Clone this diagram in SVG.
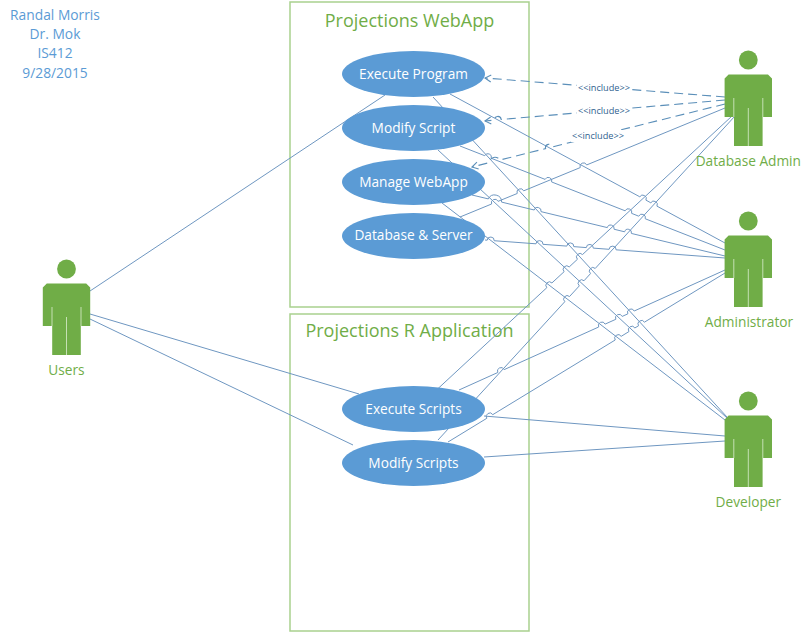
<svg xmlns="http://www.w3.org/2000/svg" xmlns:xlink="http://www.w3.org/1999/xlink" width="811" height="632" viewBox="0 0 811 632">
<style>
text{font-family:"Open Sans","Liberation Sans",sans-serif;text-anchor:middle}
.box{fill:none;stroke:#a9d18e;stroke-width:1.5}
.title{font-size:18px;fill:#70ad47}
.uc{fill:#5b9bd5}
.uct{font-size:13.7px;fill:#fff}
.act{font-size:13.7px;fill:#70ad47}
.note{font-size:13.8px;fill:#5b9bd5}
.c{fill:none;stroke:#6f97c1;stroke-width:1}
.d{fill:none;stroke:#5b8fb9;stroke-width:1.1;stroke-dasharray:9 5;marker-end:url(#open)}
.lab{font-size:9.2px;fill:#2f5f8f}
.bg{fill:#fff}
.slit{stroke:#c5e0b4;stroke-width:1;fill:none}
</style>
<defs>
<marker id="open" markerUnits="userSpaceOnUse" markerWidth="12" markerHeight="12" refX="9" refY="6" orient="auto">
<path d="M3 2.5L9 6L3 9.5" fill="none" stroke="#5b8fb9" stroke-width="1.1"/>
</marker>
<g id="actor">
<circle cx="0" cy="0" r="9.4" fill="#70ad47"/>
<path d="M-19.7 14.5H19.7L23.7 18.5V57H14.3V86H-14.3V57H-23.7V18.5Z" fill="#70ad47"/>
<path class="slit" d="M-14.5 38V57M14.5 38V57M0 48V86"/>
</g>
</defs>
<rect width="811" height="632" fill="#fff"/>
<g id="notes">
<text class="note" x="55" y="20">Randal Morris</text>
<text class="note" x="55" y="39">Dr. Mok</text>
<text class="note" x="55" y="58">IS412</text>
<text class="note" x="55" y="78">9/28/2015</text>
</g>
<g id="webapp-boundary">
<rect class="box" x="290" y="2" width="239" height="305"/>
<text class="title" x="409.5" y="27">Projections WebApp</text>
</g>
<g id="r-boundary">
<rect class="box" x="290" y="314" width="239" height="317"/>
<text class="title" x="409.5" y="337">Projections R Application</text>
</g>
<g id="connectors">
<path class="c" d="M90 291L385 95"/>
<path class="c" d="M90 314L359 394"/>
<path class="c" d="M90 319L353 445"/>
<path class="c" d="M433 97L727 417"/>
<path class="c" d="M438 150L727 418"/>
<path class="c" d="M442 203L725 420"/>
<path class="c" d="M484 416L725 436"/>
<path class="c" d="M484 457L725 441"/>
<path class="c" d="M450 94L639.8 196.8a3.5 3.5 0 0 1 6.15 3.33L650.8 202.8a3.5 3.5 0 0 1 6.15 3.33L725 243"/>
<path class="c" d="M460 146L484.74 155.7a3.5 3.5 0 0 1 6.5 2.56L545.14 179.4a3.5 3.5 0 0 1 6.5 2.56L625.14 210.8a3.5 3.5 0 0 1 6.5 2.56L638.74 216.2a3.5 3.5 0 0 1 6.5 2.56L725 250"/>
<path class="c" d="M472 195L488.3 198.9A7 7 0 0 1 501.6 202.1L534.2 210a3.5 3.5 0 0 1 6.8 1.64L607.3 227.6a3.5 3.5 0 0 1 6.8 1.64L624.6 231.8a3.5 3.5 0 0 1 6.8 1.64L725 256"/>
<path class="c" d="M485 240L487.2 240.2a3.5 3.5 0 0 1 6.98 .52L536 243.8a3.5 3.5 0 0 1 6.98 .52L566.8 246.1a3.5 3.5 0 0 1 6.98 .52L586.3 247.6a3.5 3.5 0 0 1 6.98 .52L609.1 249.3a3.5 3.5 0 0 1 6.98 .52L725 258"/>
<path class="c" d="M459 390L497.8 372.5a3.5 3.5 0 0 1 6.38 -2.88L598.7 327a3.5 3.5 0 0 1 6.38 -2.88L615.8 319.3a3.5 3.5 0 0 1 6.38 -2.88L627.8 313.9a3.5 3.5 0 0 1 6.38 -2.88L725 270"/>
<path class="c" d="M448 442L486.8 418.3a3.5 3.5 0 0 1 5.98 -3.65L615.2 340a3.5 3.5 0 0 1 5.98 -3.65L628.9 331.6a3.5 3.5 0 0 1 5.98 -3.65L638.5 325.8a3.5 3.5 0 0 1 5.98 -3.65L725 273"/>
<path class="c" d="M460 217L491.6 204a3.5 3.5 0 0 1 6.47 -2.66L517.2 193.5a3.5 3.5 0 0 1 6.47 -2.66L580.2 167.6a3.5 3.5 0 0 1 6.47 -2.66L725 108"/>
<path class="c" d="M430 396L546.8 287.7a3.5 3.5 0 0 1 5.13 -4.76L564.1 271.7a3.5 3.5 0 0 1 5.13 -4.76L577.4 259.3a3.5 3.5 0 0 1 5.13 -4.76L732 116"/>
<path class="c" d="M438 440L564.8 301.7a3.5 3.5 0 0 1 4.73 -5.16L579.3 285.9a3.5 3.5 0 0 1 4.73 -5.16L590.5 273.6a3.5 3.5 0 0 1 4.73 -5.16L735 116"/>
</g>
<g id="uc-execute-program"><ellipse class="uc" cx="413.5" cy="74" rx="71.5" ry="23"/><text class="uct" x="413.5" y="79">Execute Program</text></g>
<g id="uc-modify-script"><ellipse class="uc" cx="413.5" cy="128" rx="71.5" ry="23"/><text class="uct" x="413.5" y="133">Modify Script</text></g>
<g id="uc-manage-webapp"><ellipse class="uc" cx="413.5" cy="182" rx="71.5" ry="23"/><text class="uct" x="413.5" y="187">Manage WebApp</text></g>
<g id="uc-database-server"><ellipse class="uc" cx="413.5" cy="236" rx="71.5" ry="23"/><text class="uct" x="413.5" y="240">Database &amp; Server</text></g>
<g id="uc-execute-scripts"><ellipse class="uc" cx="413.5" cy="409" rx="71.5" ry="23"/><text class="uct" x="413.5" y="414">Execute Scripts</text></g>
<g id="uc-modify-scripts"><ellipse class="uc" cx="413.5" cy="463" rx="71.5" ry="23"/><text class="uct" x="413.5" y="468">Modify Scripts</text></g>
<g id="connectors-include">
<path class="d" d="M725 97L485 78"/>
<path class="d" d="M725 100L501.2 119.5a3.5 3.5 0 0 0 -6.97 .61L485 121"/>
<path class="d" d="M725 104L552.4 146.9a3.5 3.5 0 0 0 -6.8 1.69L500 160A6 6 0 0 0 489 162.7L472 167"/>
<rect class="bg" x="577" y="82" width="54" height="12"/>
<text class="lab" x="604" y="91">&lt;&lt;include&gt;&gt;</text>
<rect class="bg" x="577" y="105" width="54" height="12"/>
<text class="lab" x="604" y="114">&lt;&lt;include&gt;&gt;</text>
<rect class="bg" x="571" y="130" width="54" height="12"/>
<text class="lab" x="598" y="139">&lt;&lt;include&gt;&gt;</text>
</g>
<g id="actor-users"><use xlink:href="#actor" href="#actor" x="66.5" y="269"/><text class="act" x="66.5" y="375">Users</text></g>
<g id="actor-database-admin"><use xlink:href="#actor" href="#actor" x="748.3" y="60"/><text class="act" x="748.3" y="166">Database Admin</text></g>
<g id="actor-administrator"><use xlink:href="#actor" href="#actor" x="748.3" y="221"/><text class="act" x="749" y="327">Administrator</text></g>
<g id="actor-developer"><use xlink:href="#actor" href="#actor" x="748.3" y="401"/><text class="act" x="748.3" y="507">Developer</text></g>
</svg>
